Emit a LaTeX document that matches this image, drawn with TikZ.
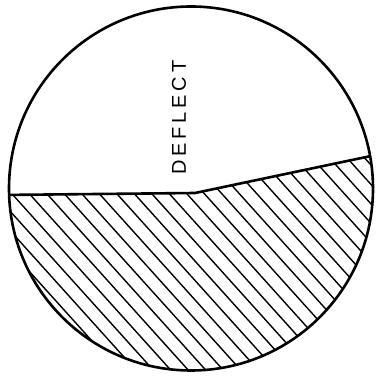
\documentclass[tikz,border=0pt]{standalone}
\usepackage{fontspec}
\setmainfont{Liberation Sans}
\newfontfamily\lblfont[LetterSpace=19]{Liberation Sans}
\begin{document}
\begin{tikzpicture}[x=1pt,y=1pt,
  outline/.style={line width=2.6pt,black},
  hatchline/.style={line width=1.4pt,black},
  label/.style={rotate=90,inner sep=0pt}]
\useasboundingbox (0,0) rectangle (375,377);
\coordinate (c) at (191,188.5);
\coordinate (l) at (0,182);
\coordinate (k) at (195,184);
\coordinate (r) at (390,225);
\begin{scope}
  \clip (c) circle (182);
  \clip (l) -- (k) -- (r) -- (390,-10) -- (-10,-10) -- cycle;
  \foreach \i in {-25,...,30}{
    \draw[hatchline] ({13+17.5*\i-200},{182+222}) -- ({13+17.5*\i+200},{182-222});
  }
\end{scope}
\begin{scope}
  \clip (c) circle (182);
  \draw[outline] (l) -- (k) -- (r);
\end{scope}
\draw[outline] (c) circle (182);
\node[label] (t) at (179,259.5) {\lblfont\fontsize{20}{22}\selectfont DEFLECT};
\end{tikzpicture}
\end{document}
